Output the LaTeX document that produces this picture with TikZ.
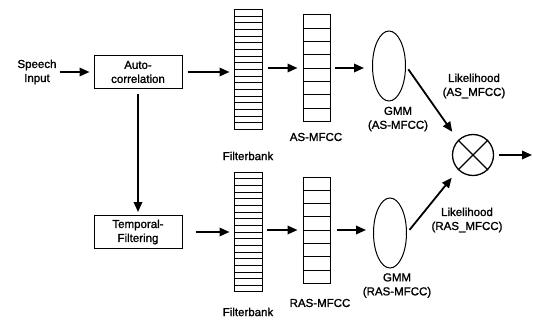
\documentclass[tikz,border=0pt]{standalone}
\usepackage{fontspec}
\setmainfont{Liberation Sans}[BoldFont=Liberation Sans,BoldFeatures={FakeBold=1.3}]
\usetikzlibrary{arrows.meta,shapes.geometric,calc}

\tikzset{
  blk/.style={draw,line width=1pt,minimum width=88pt,minimum height=33pt,align=center,inner sep=0pt},
  bank/.style={draw,line width=1pt,minimum width=28pt,minimum height=119pt,inner sep=0pt},
  feat/.style={draw,line width=1pt,minimum width=27pt,minimum height=106pt,inner sep=0pt},
  gmm/.style={draw,ellipse,line width=1pt,minimum width=33pt,minimum height=70pt,inner sep=0pt},
  lbl/.style={align=center,inner sep=0pt},
  cell/.style={line width=0.7pt},
  flow/.style={line width=1.8pt,-{Triangle[length=10pt,width=8.5pt]}},
}

\begin{document}
\begin{tikzpicture}[x=1pt,y=-1pt,font=\fontsize{11.5}{14}\selectfont\bfseries]
    \useasboundingbox (0,0) rectangle (533,321);

    \node[lbl] (inp) at (37,72) {Speech\\Input};
    \node[blk] (auto) at (138,72) {Auto-\\correlation};
    \node[blk] (temp) at (138,232) {Temporal-\\Filtering};
    \node[bank] (fbA) at (248,69.5) {};
    \node[bank] (fbB) at (248,232) {};
    \node[feat] (mfA) at (316.5,68) {};
    \node[feat] (mfB) at (316.5,230) {};
    \node[gmm] (gmA) at (389,66) {};
    \node[gmm] (gmB) at (390,233) {};
    \node[draw,circle,line width=1.3pt,minimum size=41pt,inner sep=0pt] (mult) at (473,155) {};
    \coordinate (out) at (532,155);

    \node[lbl] (fbAl) at (248,156) {Filterbank};
    \node[lbl] (fbBl) at (248,312) {Filterbank};
    \node[lbl] (mfAl) at (316,137) {AS-MFCC};
    \node[lbl] (mfBl) at (320,303) {RAS-MFCC};
    \node[lbl] (gmAl) at (398,119) {GMM\\(AS-MFCC)};
    \node[lbl] (gmBl) at (397,285.5) {GMM\\(RAS-MFCC)};
    \node[lbl] (lkA) at (474,86) {Likelihood\\(AS\_MFCC)};
    \node[lbl] (lkB) at (467,220) {Likelihood\\(RAS\_MFCC)};

    \foreach \b in {fbA,fbB}
      \foreach \i in {1,...,17}
        \draw[cell] ($(\b.north west)!\i/18!(\b.south west)$) -- ($(\b.north east)!\i/18!(\b.south east)$);
    \foreach \b in {mfA,mfB}
      \foreach \i in {1,...,7}
        \draw[cell] ($(\b.north west)!\i/8!(\b.south west)$) -- ($(\b.north east)!\i/8!(\b.south east)$);
    \draw[line width=1.3pt] (mult.north east) -- (mult.south west)
                            (mult.north west) -- (mult.south east);

    \draw[flow,shorten <=3pt,shorten >=4pt] (inp.east) -- (auto.west);
    \draw[flow,shorten <=5pt,shorten >=4pt] (auto.east) -- (auto.east -| fbA.west);
    \draw[flow,shorten <=5pt,shorten >=3pt] (auto.south) -- (temp.north);
    \draw[flow,shorten <=13pt,shorten >=4pt] (temp.east) -- (fbB.west);
    \draw[flow,shorten <=5pt,shorten >=5pt] (fbA.east |- mfA) -- (mfA.west);
    \draw[flow,shorten <=4pt,shorten >=8pt] (mfA.east) -- (mfA.east -| gmA.west);
    \draw[flow,shorten <=4pt,shorten >=5pt] (fbB.east |- mfB) -- (mfB.west);
    \draw[flow,shorten <=6pt,shorten >=7pt] (mfB.east) -- (mfB.east -| gmB.west);
    \draw[flow,shorten <=4pt,shorten >=10pt] (gmA.east) -- (mult.north west);
    \draw[flow,shorten <=4pt,shorten >=10pt] (gmB.east) -- (mult.south west);
    \draw[flow,shorten <=5pt] (mult.east) -- (out);
\end{tikzpicture}
\end{document}
